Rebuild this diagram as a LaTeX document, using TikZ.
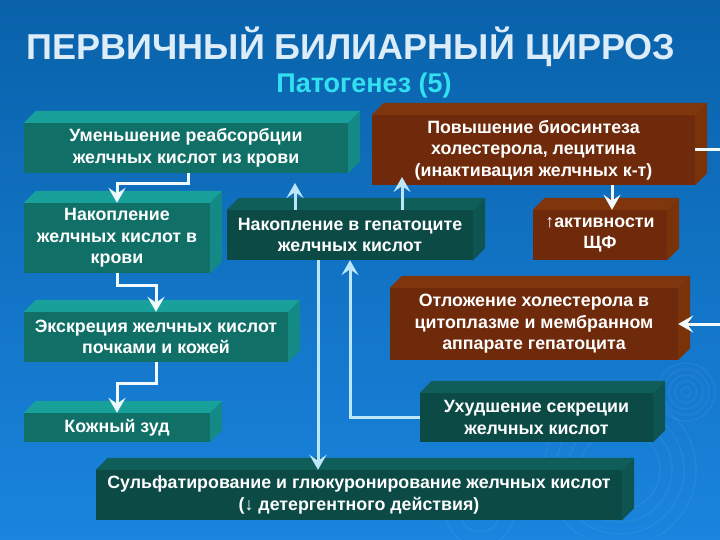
\documentclass[tikz,border=0pt]{standalone}
\usepackage{fontspec}
\setmainfont{Liberation Sans}
\usetikzlibrary{arrows.meta}
\definecolor{sky}{RGB}{9,98,170}
\definecolor{skylow}{RGB}{26,132,222}
\definecolor{tealfront}{RGB}{16,112,104}
\definecolor{tealtop}{RGB}{24,160,155}
\definecolor{tealside}{RGB}{19,138,133}
\definecolor{deepfront}{RGB}{12,74,70}
\definecolor{deeptop}{RGB}{15,94,89}
\definecolor{deepside}{RGB}{14,84,80}
\definecolor{clayfront}{RGB}{110,42,10}
\definecolor{claytop}{RGB}{128,54,12}
\definecolor{clayside}{RGB}{122,50,8}
\definecolor{frost}{RGB}{240,250,255}
\definecolor{ice}{RGB}{190,230,250}
\definecolor{headline}{RGB}{220,236,248}
\definecolor{cyanline}{RGB}{50,224,240}
\newcommand{\slabfaces}[2]{%
  \fill[#2top] (#1.north west) -- ++(12,-12) -- ([shift={(12,-12)}]#1.north east) -- (#1.north east) -- cycle;
  \fill[#2side] (#1.north east) -- ++(12,-12) -- ([shift={(12,-12)}]#1.south east) -- (#1.south east) -- cycle;}

\begin{document}
\begin{tikzpicture}[x=1pt,y=-1pt,
  box/.style={inner sep=0pt, align=center, text=white, font=\bfseries\fontsize{17.8}{21.5}\selectfont},
  tealbox/.style={box, fill=tealfront},
  deepbox/.style={box, fill=deepfront},
  claybox/.style={box, fill=clayfront},
  flow/.style={draw=frost, line width=3pt, -{Stealth[length=15pt,width=17pt,inset=6pt]}},
  iceflow/.style={flow, draw=ice, -{Stealth[length=15pt,width=17pt,inset=6pt,fill=ice]}},
  ripple/.style={draw=white, opacity=.05, line width=1.5pt}]
  \useasboundingbox (0,0) rectangle (720,540);
  \shade[top color=sky, bottom color=skylow] (0,0) rectangle (720,540);
  \foreach \r in {5,11,17,23,29} \draw[ripple] (686,392) circle[radius=\r pt];
  \foreach \r in {40,52,64,76} \draw[ripple] (620,470) circle[radius=\r pt];
  \foreach \r in {20,34} \draw[ripple] (480,512) circle[radius=\r pt];

  \node[font=\bfseries\fontsize{36}{40}\selectfont, text=headline, anchor=base] (title) at (351,60) {ПЕРВИЧНЫЙ БИЛИАРНЫЙ ЦИРРОЗ};
  \node[font=\bfseries\fontsize{27}{30}\selectfont, text=cyanline, anchor=base] (sub) at (364,93) {Патогенез (5)};

  \node[tealbox, minimum width=324pt, minimum height=50pt] (reabs) at (186,148) {Уменьшение реабсорбции\\желчных кислот из крови};
  \node[tealbox, minimum width=186pt, minimum height=70pt] (krov) at (117,238) {Накопление\\желчных кислот в\\крови};
  \node[deepbox, minimum width=246pt, minimum height=50pt] (hepat) at (350,235) {Накопление в гепатоците\\желчных кислот};
  \node[claybox, minimum width=323pt, minimum height=70pt] (bios) at (533.5,150) {Повышение биосинтеза\\холестерола, лецитина\\(инактивация желчных к-т)};
  \node[claybox, minimum width=134pt, minimum height=50pt] (shf) at (600,235) {↑активности\\ЩФ};
  \node[tealbox, minimum width=264pt, minimum height=50pt] (ekskr) at (156,337) {Экскреция желчных кислот\\почками и кожей};
  \node[tealbox, minimum width=186pt, minimum height=29pt] (zud) at (117,427.5) {Кожный зуд};
  \node[claybox, minimum width=288pt, minimum height=72pt] (otl) at (534,324) {Отложение холестерола в\\цитоплазме и мембранном\\аппарате гепатоцита};
  \node[deepbox, minimum width=233pt, minimum height=49pt] (uhud) at (536.5,417.5) {Ухудшение секреции\\желчных кислот};
  \node[deepbox, minimum width=526pt, minimum height=50pt] (sulf) at (359,495) {Сульфатирование и глюкуронирование желчных кислот\\(↓ детергентного действия)};
  \foreach \n/\c in {reabs/teal,krov/teal,ekskr/teal,zud/teal,hepat/deep,uhud/deep,sulf/deep,bios/clay,shf/clay,otl/clay}
    {\slabfaces{\n}{\c}}

  \coordinate (u1) at (295,183);
  \coordinate (u2) at (402,177);
  \coordinate (r1) at (720,150);
  \coordinate (r2) at (720,324);
  \draw[flow] (188,0 |- reabs.south) -- ++(0,10) -| (krov.north);
  \draw[flow] (krov.south) -- ++(0,12) -| (ekskr.north);
  \draw[flow] (ekskr.south) -- ++(0,21) -| (zud.north);
  \draw[iceflow] (295,0 |- hepat.north) -- (u1);
  \draw[iceflow] (402,0 |- hepat.north) -- (u2);
  \draw[flow] (612,0 |- bios.south) -- (612,0 |- shf.north);
  \draw[draw=frost, line width=3pt] (bios.east) -- (r1);
  \draw[flow] (r2) -- (otl.east);
  \draw[iceflow] (uhud.west) -| (hepat.south);
  \draw[iceflow] (318,0 |- hepat.south) -- (318,0 |- sulf.north);
\end{tikzpicture}
\end{document}
